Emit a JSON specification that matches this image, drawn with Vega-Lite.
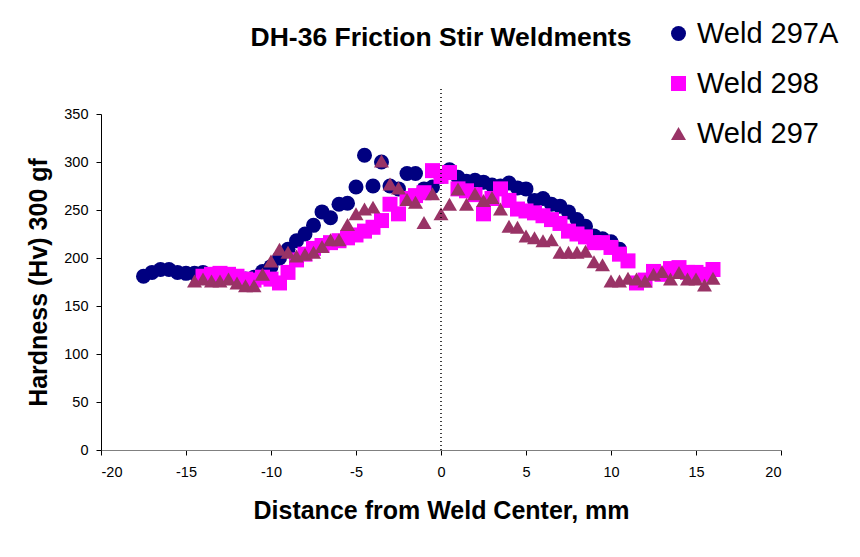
{
  "$schema": "https://vega.github.io/schema/vega-lite/v6.json",
  "width": 680,
  "height": 336,
  "autosize": {"type": "none"},
  "padding": {"left": 101, "top": 114, "right": 79, "bottom": 107},
  "background": "white",
  "title": {
    "text": "DH-36 Friction Stir Weldments",
    "font": "Liberation Sans",
    "fontSize": 26.5,
    "fontWeight": "bold",
    "color": "black",
    "anchor": "middle",
    "frame": "group",
    "baseline": "middle",
    "offset": 0,
    "dy": 45
  },
  "config": {
    "view": {"stroke": null},
    "axis": {
      "grid": false,
      "domainColor": "black",
      "tickColor": "black",
      "labelFont": "Liberation Sans",
      "labelFontSize": 14.5,
      "labelColor": "black",
      "titleFont": "Liberation Sans",
      "titleFontSize": 25,
      "titleFontWeight": "bold",
      "titleColor": "black"
    }
  },
  "layer": [
    {
      "data": {
        "values": [
          {"series": "Weld 297A", "x": -17.5, "y": 181},
          {"series": "Weld 297A", "x": -17, "y": 185},
          {"series": "Weld 297A", "x": -16.5, "y": 188},
          {"series": "Weld 297A", "x": -16, "y": 188},
          {"series": "Weld 297A", "x": -15.5, "y": 185},
          {"series": "Weld 297A", "x": -15, "y": 184},
          {"series": "Weld 297A", "x": -14.5, "y": 184},
          {"series": "Weld 297A", "x": -14, "y": 185},
          {"series": "Weld 297A", "x": -13.5, "y": 182},
          {"series": "Weld 297A", "x": -13, "y": 181},
          {"series": "Weld 297A", "x": -12.5, "y": 180},
          {"series": "Weld 297A", "x": -12, "y": 180},
          {"series": "Weld 297A", "x": -11.5, "y": 178},
          {"series": "Weld 297A", "x": -11, "y": 180},
          {"series": "Weld 297A", "x": -10.5, "y": 186},
          {"series": "Weld 297A", "x": -10, "y": 191},
          {"series": "Weld 297A", "x": -9.5, "y": 200},
          {"series": "Weld 297A", "x": -9, "y": 209},
          {"series": "Weld 297A", "x": -8.5, "y": 218},
          {"series": "Weld 297A", "x": -8, "y": 225},
          {"series": "Weld 297A", "x": -7.5, "y": 234},
          {"series": "Weld 297A", "x": -7, "y": 248},
          {"series": "Weld 297A", "x": -6.5, "y": 242},
          {"series": "Weld 297A", "x": -6, "y": 256},
          {"series": "Weld 297A", "x": -5.5, "y": 257},
          {"series": "Weld 297A", "x": -5, "y": 274},
          {"series": "Weld 297A", "x": -4.5, "y": 307},
          {"series": "Weld 297A", "x": -4, "y": 275},
          {"series": "Weld 297A", "x": -3.5, "y": 300},
          {"series": "Weld 297A", "x": -3, "y": 275},
          {"series": "Weld 297A", "x": -2.5, "y": 272},
          {"series": "Weld 297A", "x": -2, "y": 288},
          {"series": "Weld 297A", "x": -1.5, "y": 288},
          {"series": "Weld 297A", "x": -1, "y": 272},
          {"series": "Weld 297A", "x": -0.5, "y": 274},
          {"series": "Weld 297A", "x": 0, "y": 285},
          {"series": "Weld 297A", "x": 0.5, "y": 292},
          {"series": "Weld 297A", "x": 1, "y": 284},
          {"series": "Weld 297A", "x": 1.5, "y": 280},
          {"series": "Weld 297A", "x": 2, "y": 281},
          {"series": "Weld 297A", "x": 2.5, "y": 279},
          {"series": "Weld 297A", "x": 3, "y": 276},
          {"series": "Weld 297A", "x": 3.5, "y": 275},
          {"series": "Weld 297A", "x": 4, "y": 278},
          {"series": "Weld 297A", "x": 4.5, "y": 273},
          {"series": "Weld 297A", "x": 5, "y": 272},
          {"series": "Weld 297A", "x": 5.5, "y": 260},
          {"series": "Weld 297A", "x": 6, "y": 262},
          {"series": "Weld 297A", "x": 6.5, "y": 256},
          {"series": "Weld 297A", "x": 7, "y": 254},
          {"series": "Weld 297A", "x": 7.5, "y": 248},
          {"series": "Weld 297A", "x": 8, "y": 240},
          {"series": "Weld 297A", "x": 8.5, "y": 233},
          {"series": "Weld 297A", "x": 9, "y": 223},
          {"series": "Weld 297A", "x": 9.5, "y": 220},
          {"series": "Weld 297A", "x": 10, "y": 217},
          {"series": "Weld 297A", "x": 10.5, "y": 209},
          {"series": "Weld 298", "x": -14, "y": 181},
          {"series": "Weld 298", "x": -13.5, "y": 183},
          {"series": "Weld 298", "x": -13, "y": 184},
          {"series": "Weld 298", "x": -12.5, "y": 183},
          {"series": "Weld 298", "x": -12, "y": 181},
          {"series": "Weld 298", "x": -11.5, "y": 178},
          {"series": "Weld 298", "x": -11, "y": 177},
          {"series": "Weld 298", "x": -10.5, "y": 180},
          {"series": "Weld 298", "x": -10, "y": 178},
          {"series": "Weld 298", "x": -9.5, "y": 174},
          {"series": "Weld 298", "x": -9, "y": 185},
          {"series": "Weld 298", "x": -8.5, "y": 198},
          {"series": "Weld 298", "x": -8, "y": 204},
          {"series": "Weld 298", "x": -7.5, "y": 210},
          {"series": "Weld 298", "x": -7, "y": 213},
          {"series": "Weld 298", "x": -6.5, "y": 216},
          {"series": "Weld 298", "x": -6, "y": 218},
          {"series": "Weld 298", "x": -5.5, "y": 221},
          {"series": "Weld 298", "x": -5, "y": 224},
          {"series": "Weld 298", "x": -4.5, "y": 228},
          {"series": "Weld 298", "x": -4, "y": 232},
          {"series": "Weld 298", "x": -3.5, "y": 239},
          {"series": "Weld 298", "x": -3, "y": 256},
          {"series": "Weld 298", "x": -2.5, "y": 246},
          {"series": "Weld 298", "x": -2, "y": 262},
          {"series": "Weld 298", "x": -1.5, "y": 265},
          {"series": "Weld 298", "x": -1, "y": 268},
          {"series": "Weld 298", "x": -0.5, "y": 291},
          {"series": "Weld 298", "x": 0, "y": 285},
          {"series": "Weld 298", "x": 0.5, "y": 289},
          {"series": "Weld 298", "x": 1, "y": 272},
          {"series": "Weld 298", "x": 1.5, "y": 270},
          {"series": "Weld 298", "x": 2, "y": 266},
          {"series": "Weld 298", "x": 2.5, "y": 246},
          {"series": "Weld 298", "x": 3, "y": 262},
          {"series": "Weld 298", "x": 3.5, "y": 272},
          {"series": "Weld 298", "x": 4, "y": 260},
          {"series": "Weld 298", "x": 4.5, "y": 251},
          {"series": "Weld 298", "x": 5, "y": 249},
          {"series": "Weld 298", "x": 5.5, "y": 247},
          {"series": "Weld 298", "x": 6, "y": 244},
          {"series": "Weld 298", "x": 6.5, "y": 240},
          {"series": "Weld 298", "x": 7, "y": 236},
          {"series": "Weld 298", "x": 7.5, "y": 228},
          {"series": "Weld 298", "x": 8, "y": 225},
          {"series": "Weld 298", "x": 8.5, "y": 222},
          {"series": "Weld 298", "x": 9, "y": 216},
          {"series": "Weld 298", "x": 9.5, "y": 216},
          {"series": "Weld 298", "x": 10, "y": 211},
          {"series": "Weld 298", "x": 10.5, "y": 204},
          {"series": "Weld 298", "x": 11, "y": 197},
          {"series": "Weld 298", "x": 11.5, "y": 174},
          {"series": "Weld 298", "x": 12, "y": 177},
          {"series": "Weld 298", "x": 12.5, "y": 186},
          {"series": "Weld 298", "x": 13, "y": 183},
          {"series": "Weld 298", "x": 13.5, "y": 189},
          {"series": "Weld 298", "x": 14, "y": 190},
          {"series": "Weld 298", "x": 14.5, "y": 185},
          {"series": "Weld 298", "x": 15, "y": 185},
          {"series": "Weld 298", "x": 15.5, "y": 183},
          {"series": "Weld 298", "x": 16, "y": 188},
          {"series": "Weld 297", "x": -14.5, "y": 176},
          {"series": "Weld 297", "x": -14, "y": 178},
          {"series": "Weld 297", "x": -13.5, "y": 176},
          {"series": "Weld 297", "x": -13, "y": 176},
          {"series": "Weld 297", "x": -12.5, "y": 178},
          {"series": "Weld 297", "x": -12, "y": 174},
          {"series": "Weld 297", "x": -11.5, "y": 171},
          {"series": "Weld 297", "x": -11, "y": 171},
          {"series": "Weld 297", "x": -10.5, "y": 183},
          {"series": "Weld 297", "x": -10, "y": 197},
          {"series": "Weld 297", "x": -9.5, "y": 209},
          {"series": "Weld 297", "x": -9, "y": 206},
          {"series": "Weld 297", "x": -8.5, "y": 202},
          {"series": "Weld 297", "x": -8, "y": 204},
          {"series": "Weld 297", "x": -7.5, "y": 206},
          {"series": "Weld 297", "x": -7, "y": 212},
          {"series": "Weld 297", "x": -6.5, "y": 219},
          {"series": "Weld 297", "x": -6, "y": 219},
          {"series": "Weld 297", "x": -5.5, "y": 235},
          {"series": "Weld 297", "x": -5, "y": 246},
          {"series": "Weld 297", "x": -4.5, "y": 251},
          {"series": "Weld 297", "x": -4, "y": 253},
          {"series": "Weld 297", "x": -3.5, "y": 301},
          {"series": "Weld 297", "x": -3, "y": 277},
          {"series": "Weld 297", "x": -2.5, "y": 273},
          {"series": "Weld 297", "x": -2, "y": 261},
          {"series": "Weld 297", "x": -1.5, "y": 258},
          {"series": "Weld 297", "x": -1, "y": 237},
          {"series": "Weld 297", "x": -0.5, "y": 267},
          {"series": "Weld 297", "x": 0, "y": 246},
          {"series": "Weld 297", "x": 0.5, "y": 256},
          {"series": "Weld 297", "x": 1, "y": 272},
          {"series": "Weld 297", "x": 1.5, "y": 256},
          {"series": "Weld 297", "x": 2, "y": 267},
          {"series": "Weld 297", "x": 2.5, "y": 260},
          {"series": "Weld 297", "x": 3, "y": 263},
          {"series": "Weld 297", "x": 3.5, "y": 251},
          {"series": "Weld 297", "x": 4, "y": 233},
          {"series": "Weld 297", "x": 4.5, "y": 232},
          {"series": "Weld 297", "x": 5, "y": 223},
          {"series": "Weld 297", "x": 5.5, "y": 221},
          {"series": "Weld 297", "x": 6, "y": 218},
          {"series": "Weld 297", "x": 6.5, "y": 219},
          {"series": "Weld 297", "x": 7, "y": 206},
          {"series": "Weld 297", "x": 7.5, "y": 206},
          {"series": "Weld 297", "x": 8, "y": 206},
          {"series": "Weld 297", "x": 8.5, "y": 207},
          {"series": "Weld 297", "x": 9, "y": 196},
          {"series": "Weld 297", "x": 9.5, "y": 193},
          {"series": "Weld 297", "x": 10, "y": 176},
          {"series": "Weld 297", "x": 10.5, "y": 176},
          {"series": "Weld 297", "x": 11, "y": 179},
          {"series": "Weld 297", "x": 11.5, "y": 178},
          {"series": "Weld 297", "x": 12, "y": 176},
          {"series": "Weld 297", "x": 12.5, "y": 183},
          {"series": "Weld 297", "x": 13, "y": 186},
          {"series": "Weld 297", "x": 13.5, "y": 178},
          {"series": "Weld 297", "x": 14, "y": 185},
          {"series": "Weld 297", "x": 14.5, "y": 178},
          {"series": "Weld 297", "x": 15, "y": 178},
          {"series": "Weld 297", "x": 15.5, "y": 172},
          {"series": "Weld 297", "x": 16, "y": 179}
        ]
      },
      "mark": {"type": "point", "filled": true, "opacity": 1, "size": 225, "strokeWidth": 0},
      "encoding": {
        "x": {
          "field": "x",
          "type": "quantitative",
          "scale": {"domain": [-20, 20], "nice": false, "zero": false},
          "axis": {
            "title": "Distance from Weld Center, mm",
            "values": [-20, -15, -10, -5, 0, 5, 10, 15, 20],
            "labelExpr": "'' + datum.value",
            "tickSize": 5,
            "domainColor": "#808080",
            "labelPadding": 10,
            "titleY": 60,
            "titleBaseline": "middle"
          }
        },
        "y": {
          "field": "y",
          "type": "quantitative",
          "scale": {"domain": [0, 350], "nice": false},
          "axis": {
            "title": "Hardness (Hv) 300 gf",
            "values": [0, 50, 100, 150, 200, 250, 300, 350],
            "tickSize": 5,
            "labelPadding": 8,
            "titleX": -63,
            "titleY": 168,
            "titleBaseline": "middle"
          }
        },
        "color": {
          "field": "series",
          "type": "nominal",
          "scale": {"domain": ["Weld 297A", "Weld 298", "Weld 297"], "range": ["#000080", "#FF00FF", "#993366"]},
          "legend": {
            "title": null,
            "orient": "none",
            "legendX": 563,
            "legendY": -95,
            "padding": 0,
            "symbolSize": 225,
            "symbolStrokeWidth": 0,
            "labelFont": "Liberation Sans",
            "labelFontSize": 29,
            "labelColor": "black",
            "labelOffset": 4,
            "rowPadding": 20,
            "labelLimit": 300
          }
        },
        "shape": {
          "field": "series",
          "type": "nominal",
          "scale": {"domain": ["Weld 297A", "Weld 298", "Weld 297"], "range": ["circle", "square", "triangle-up"]}
        }
      }
    },
    {
      "data": {"values": [{"x": 0, "y": 0, "y2": 377}]},
      "mark": {"type": "rule", "color": "black", "strokeWidth": 1.5, "strokeDash": [1, 3]},
      "encoding": {
        "x": {"field": "x", "type": "quantitative"},
        "y": {"field": "y", "type": "quantitative"},
        "y2": {"field": "y2"}
      }
    }
  ]
}
